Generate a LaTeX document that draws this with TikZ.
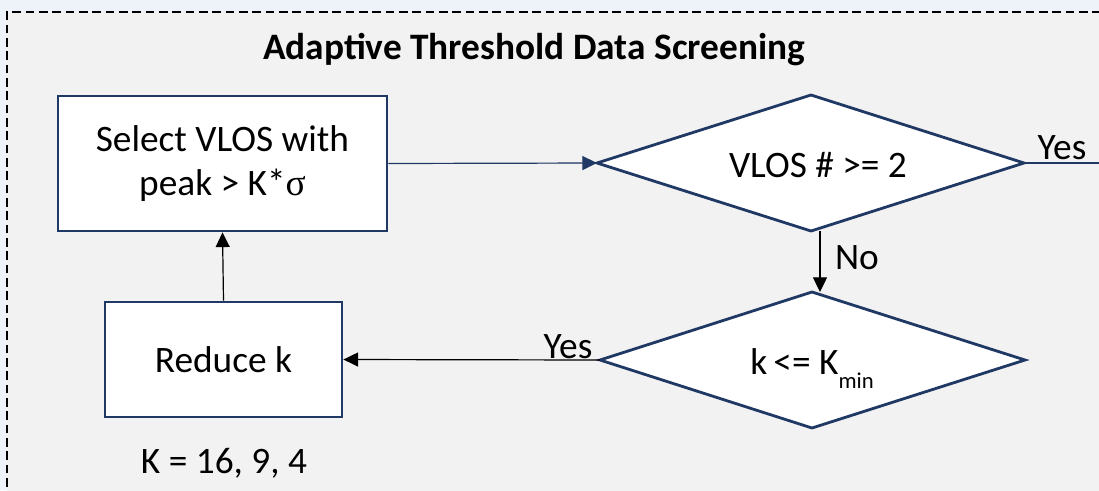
\documentclass[tikz,border=0pt]{standalone}
\usepackage{fontspec}
\setmainfont{Carlito}
\newfontfamily\greekfont{Liberation Serif}
\usetikzlibrary{shapes.geometric,arrows.meta}
\definecolor{navy}{HTML}{1F3864}
\definecolor{panel}{HTML}{F2F2F2}
\definecolor{outer}{HTML}{EEF3F9}
\tikzset{
  px/.style={x=0.75pt,y=-0.75pt},
  txt/.style={font=\fontsize{28}{33}\selectfont},
  procbox/.style={draw=navy,line width=2.1pt,fill=white,rectangle,inner sep=0pt,
    align=center,txt},
  diamondpath/.style={draw=navy,fill=white,line width=2.1pt,line join=miter},
  flow/.style={line width=0.9pt,-{Triangle[length=11pt,width=10.5pt]}},
  lbl/.style={txt,inner sep=0pt},
}
\begin{document}
\begin{tikzpicture}[px]
  \useasboundingbox (0,0) rectangle (1099,490);
  % outer page and dashed panel
  \fill[outer] (0,0) rectangle (1099,490);
  \fill[panel] (7,12) rectangle (1110,500);
  \draw[line width=1.7pt,dash pattern=on 6.5pt off 3.5pt] (7,500) -- (7,12) -- (1110,12);
  \node[font=\bfseries\fontsize{28}{33}\selectfont] (title) at (534,50) {Adaptive Threshold Data Screening};

  % process boxes
  \node[procbox,minimum width=329*0.75pt,minimum height=135*0.75pt] (select) at (222.5,163.5)
    {Select VLOS with\\peak > K*{\greekfont σ}};
  \node[procbox,minimum width=237*0.75pt,minimum height=115*0.75pt] (reduce) at (223.5,359.5) {Reduce k};
  \node[lbl] (kvals) at (224,463) {K = 16, 9, 4};

  % decision diamonds drawn as explicit polygons
  \coordinate (d1w) at (597,163); \coordinate (d1e) at (1024,163);
  \coordinate (d1n) at (811,95);  \coordinate (d1s) at (811,231);
  \path[diamondpath] (d1w) -- (d1n) -- (d1e) -- (d1s) -- cycle;
  \node[lbl] (q1) at (818,165) {VLOS \# >= 2};

  \coordinate (d2w) at (600,360); \coordinate (d2e) at (1025,360);
  \coordinate (d2n) at (812,292); \coordinate (d2s) at (812,428);
  \path[diamondpath] (d2w) -- (d2n) -- (d2e) -- (d2s) -- cycle;
  \node[lbl,anchor=base] (q2) at (812,374) {k\,<= K\raisebox{-0.38em}{\fontsize{17}{17}\selectfont min}};

  % connectors
  \coordinate (exit) at (1099,163);
  \coordinate (noTop) at (820,231);
  \coordinate (noBot) at (820,292);
  \draw[flow,draw=navy,fill=navy] (select.east) -- (d1w);
  \draw[line width=0.9pt,navy] (d1e) -- (exit);
  \node[lbl] (yes1) at (1062,148) {Yes};
  \draw[flow] (noTop) -- (noBot);
  \node[lbl] (no1) at (857,258) {No};
  \draw[flow] (d2w) -- (reduce.east);
  \node[lbl] (yes2) at (568,347) {Yes};
  \draw[flow] (reduce.north) -- (select.south);
\end{tikzpicture}
\end{document}
